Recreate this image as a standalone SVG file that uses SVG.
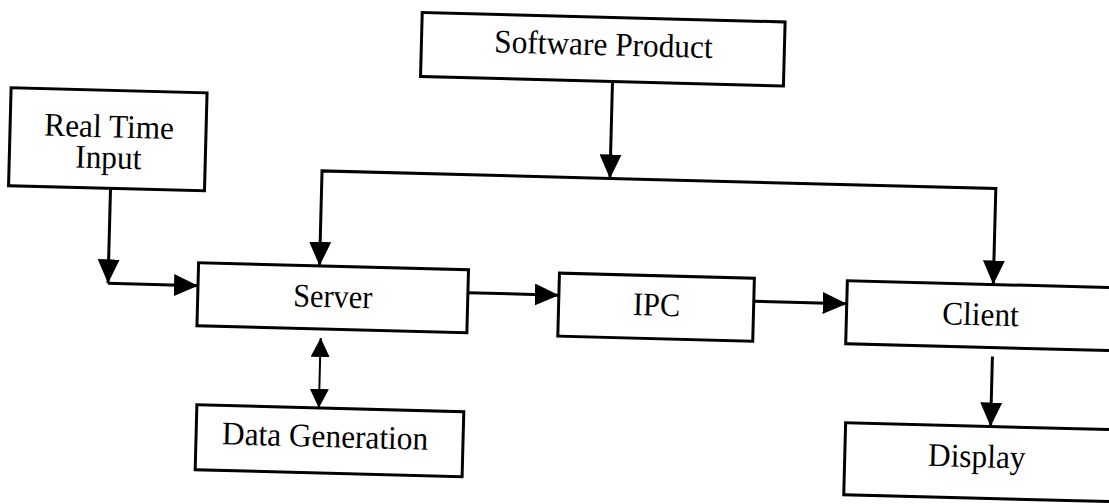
<svg xmlns="http://www.w3.org/2000/svg" width="1109" height="504" viewBox="0 0 1109 504">
  <style>
    .box { fill: #fff; stroke: #000; stroke-width: 3; }
    .lbl { font-family: "Liberation Serif", "Times New Roman", serif; font-size: 33px; fill: #000; text-anchor: middle; }
    .wire { fill: none; stroke: #000; stroke-width: 3; }
    .thin { fill: none; stroke: #000; stroke-width: 2; }
  </style>
  <defs>
    <marker id="head" viewBox="0 0 24 22" refX="24" refY="11" markerWidth="24" markerHeight="22" markerUnits="userSpaceOnUse" orient="auto">
      <path d="M0,0 L24,11 L0,22 Z" fill="#000"/>
    </marker>
    <marker id="headSmall" viewBox="0 0 19 19" refX="19" refY="9.5" markerWidth="19" markerHeight="19" markerUnits="userSpaceOnUse" orient="auto-start-reverse">
      <path d="M0,0 L19,9.5 L0,19 Z" fill="#000"/>
    </marker>
  </defs>
  <rect width="1109" height="504" fill="#fff"/>
  <g transform="rotate(1.5 554 252)">
    <g id="connectors">
      <path class="wire" d="M608,80 V177" marker-end="url(#head)"/>
      <path class="wire" d="M608,177 H320 V272" marker-end="url(#head)"/>
      <path class="wire" d="M608,177 H994 V273" marker-end="url(#head)"/>
      <path class="wire" d="M109,200 V295" marker-end="url(#head)"/>
      <path class="wire" d="M109,295 H199" marker-end="url(#head)"/>
      <path class="wire" d="M469,295 H560" marker-end="url(#head)"/>
      <path class="wire" d="M755,296 H848" marker-end="url(#head)"/>
      <path class="wire" d="M995,345 V415" marker-end="url(#head)"/>
      <path class="thin" d="M323,344 V414" marker-start="url(#headSmall)" marker-end="url(#headSmall)"/>
    </g>
    <g id="software-product">
      <rect class="box" x="416" y="16" width="363" height="64"/>
      <text class="lbl" transform="translate(598 54) scale(0.95 1)">Software Product</text>
    </g>
    <g id="real-time-input">
      <rect class="box" x="7" y="102" width="196" height="98"/>
      <text class="lbl" transform="translate(106 149) scale(0.95 1)">Real Time</text>
      <text class="lbl" transform="translate(106 180) scale(0.95 1)">Input</text>
    </g>
    <g id="server">
      <rect class="box" x="199" y="272" width="270" height="63"/>
      <text class="lbl" transform="translate(334 313) scale(0.92 1)">Server</text>
    </g>
    <g id="ipc">
      <rect class="box" x="560" y="273" width="195" height="63"/>
      <text class="lbl" transform="translate(658 313) scale(0.92 1)">IPC</text>
    </g>
    <g id="client">
      <rect class="box" x="848" y="273" width="275" height="63"/>
      <text class="lbl" transform="translate(982 314) scale(0.95 1)">Client</text>
    </g>
    <g id="data-generation">
      <rect class="box" x="201" y="414" width="267" height="65"/>
      <text class="lbl" transform="translate(330 453) scale(0.95 1)">Data Generation</text>
    </g>
    <g id="display">
      <rect class="box" x="850" y="415" width="275" height="72"/>
      <text class="lbl" transform="translate(982 456) scale(0.95 1)">Display</text>
    </g>
  </g>
</svg>
